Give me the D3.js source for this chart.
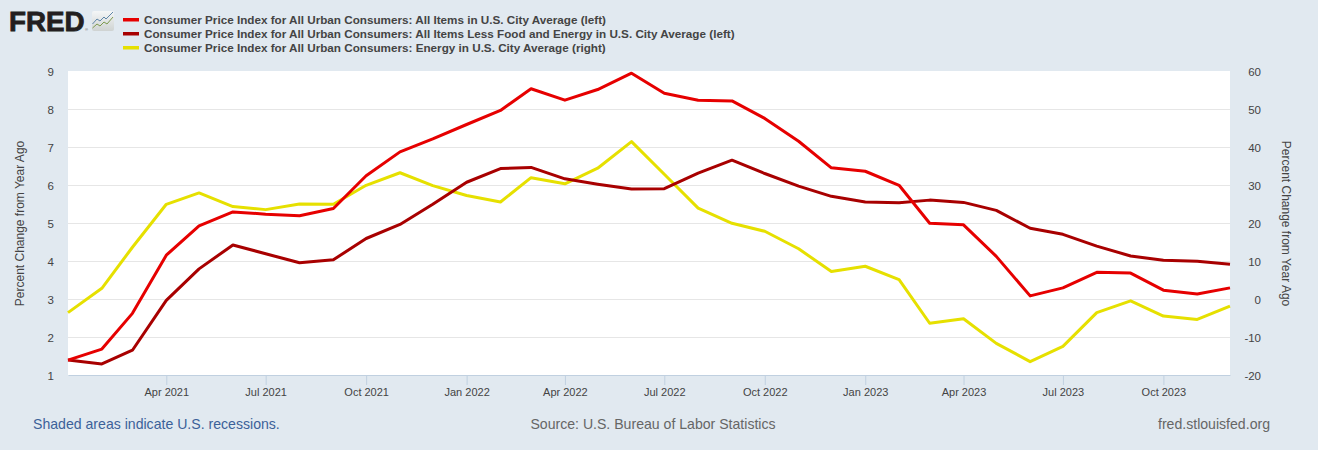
<!DOCTYPE html>
<html>
<head>
<meta charset="utf-8">
<script src="https://cdn.jsdelivr.net/npm/d3@7"></script>
<style>
  html, body { margin: 0; padding: 0; background: #e1e9f0; }
  svg { display: block; }
  text { font-family: "Liberation Sans", Arial, sans-serif; }
</style>
</head>
<body>
<div id="chart"></div>
<script>
const months = [
  "2021-01","2021-02","2021-03","2021-04","2021-05","2021-06","2021-07","2021-08","2021-09","2021-10","2021-11","2021-12",
  "2022-01","2022-02","2022-03","2022-04","2022-05","2022-06","2022-07","2022-08","2022-09","2022-10","2022-11","2022-12",
  "2023-01","2023-02","2023-03","2023-04","2023-05","2023-06","2023-07","2023-08","2023-09","2023-10","2023-11","2023-12"
];
const allItems = [1.40,1.69,2.63,4.16,4.93,5.30,5.24,5.20,5.39,6.25,6.88,7.22,
  7.60,7.97,8.54,8.24,8.52,8.95,8.42,8.24,8.22,7.76,7.16,6.46,
  6.37,6.00,5.00,4.96,4.13,3.09,3.30,3.71,3.69,3.24,3.14,3.30];
const coreItems = [1.40,1.30,1.66,2.97,3.80,4.43,4.20,3.96,4.04,4.60,4.97,5.50,
  6.08,6.44,6.47,6.17,6.03,5.90,5.91,6.32,6.66,6.31,5.98,5.71,
  5.56,5.54,5.61,5.55,5.34,4.87,4.71,4.40,4.14,4.03,4.00,3.92];
const energy = [-3.5,2.9,13.7,25.0,28.0,24.4,23.6,25.1,25.0,30.0,33.3,29.9,
  27.3,25.6,32.0,30.4,34.5,41.5,32.9,24.0,20.0,17.9,13.3,7.3,
  8.7,5.2,-6.3,-5.1,-11.6,-16.4,-12.4,-3.5,-0.4,-4.4,-5.3,-1.8];
const tickMonths = ["2021-04","2021-07","2021-10","2022-01","2022-04","2022-07","2022-10","2023-01","2023-04","2023-07","2023-10"];
const leftTicks = [1,2,3,4,5,6,7,8,9];
const rightTicks = [-20,-10,0,10,20,30,40,50,60];
const seriesNames = [
  "Consumer Price Index for All Urban Consumers: All Items in U.S. City Average (left)",
  "Consumer Price Index for All Urban Consumers: All Items Less Food and Energy in U.S. City Average (left)",
  "Consumer Price Index for All Urban Consumers: Energy in U.S. City Average (right)"
];
const seriesColors = ["#e60000", "#a80000", "#e6e000"];

const parseMonth = d3.timeParse("%Y-%m");
const dim = { width: 1318, height: 450, top: 71.3, bottom: 375.3, left: 68, right: 1230 };

const svg = d3.select("#chart").append("svg")
  .attr("width", dim.width)
  .attr("height", dim.height);

svg.append("rect").attr("width", dim.width).attr("height", dim.height).attr("fill", "#e1e9f0");
svg.append("rect")
  .attr("x", dim.left).attr("y", 71)
  .attr("width", dim.right - dim.left).attr("height", 304)
  .attr("fill", "#ffffff");

const x = d3.scaleTime()
  .domain([parseMonth(months[0]), parseMonth(months[months.length - 1])])
  .range([dim.left, dim.right]);
const yLeft = d3.scaleLinear().domain([1, 9]).range([dim.bottom, dim.top]);
const yRight = d3.scaleLinear().domain([-20, 60]).range([dim.bottom, dim.top]);

// grid
svg.append("g").selectAll("line").data(leftTicks.slice(1, -1)).enter().append("line")
  .attr("x1", dim.left).attr("x2", dim.right)
  .attr("y1", d => Math.floor(yLeft(d)) + 0.5).attr("y2", d => Math.floor(yLeft(d)) + 0.5)
  .attr("stroke", "#e6e6e6").attr("stroke-width", 1);

// axes
const xAxis = svg.append("g")
  .attr("transform", "translate(0,375)")
  .call(d3.axisBottom(x).tickValues(tickMonths.map(parseMonth)).tickFormat(d3.timeFormat("%b %Y")).tickSize(10).tickSizeOuter(0).tickPadding(3));
xAxis.select(".domain").attr("stroke", "#c0d0e0");
xAxis.selectAll(".tick line").attr("stroke", "#c0d0e0");
xAxis.selectAll("text").attr("fill", "#444444").style("font-size", "11px");

const left = svg.append("g")
  .attr("transform", "translate(" + dim.left + ",0.6)")
  .call(d3.axisLeft(yLeft).tickValues(leftTicks).tickSize(0).tickPadding(14));
left.select(".domain").remove();
left.selectAll("text").attr("fill", "#444444").style("font-size", "11.5px");

const right = svg.append("g")
  .attr("transform", "translate(" + dim.right + ",0.6)")
  .call(d3.axisRight(yRight).tickValues(rightTicks).tickFormat(d3.format("d")).tickSize(0).tickPadding(15));
right.select(".domain").remove();
right.selectAll("text").attr("fill", "#444444").attr("text-anchor", "end").attr("x", 31).style("font-size", "11.5px")
  .text(d => String(d));

svg.append("text")
  .attr("transform", "translate(24,223.5) rotate(-90)")
  .attr("text-anchor", "middle").attr("fill", "#444444").style("font-size", "12px")
  .text("Percent Change from Year Ago");
svg.append("text")
  .attr("transform", "translate(1282,223.5) rotate(90)")
  .attr("text-anchor", "middle").attr("fill", "#444444").style("font-size", "12px")
  .text("Percent Change from Year Ago");

// lines
const lineLeft = d3.line().x((d, i) => x(parseMonth(months[i]))).y(d => yLeft(d));
const lineRight = d3.line().x((d, i) => x(parseMonth(months[i]))).y(d => yRight(d));
const plot = svg.append("g");
[[energy, lineRight, 2], [coreItems, lineLeft, 1], [allItems, lineLeft, 0]].forEach(s => {
  plot.append("path")
    .attr("d", s[1](s[0]))
    .attr("fill", "none")
    .attr("stroke", seriesColors[s[2]])
    .attr("stroke-width", 3)
    .attr("stroke-linejoin", "round");
});

// legend
const legend = svg.append("g").selectAll("g").data(seriesNames).enter().append("g")
  .attr("transform", (d, i) => "translate(0," + (20 + i * 14) + ")");
legend.append("rect")
  .attr("x", 123).attr("y", -2).attr("width", 16).attr("height", 3.5)
  .attr("fill", (d, i) => seriesColors[i]);
legend.append("text")
  .attr("x", 144).attr("y", 4).attr("fill", "#444444")
  .style("font-size", "11.7px").style("font-weight", "bold")
  .text(d => d);

// footer
svg.append("text").attr("x", 33).attr("y", 429).attr("fill", "#3c6199").style("font-size", "14.1px")
  .text("Shaded areas indicate U.S. recessions.");
svg.append("text").attr("x", 653).attr("y", 429).attr("text-anchor", "middle").attr("fill", "#666666").style("font-size", "14.1px")
  .text("Source: U.S. Bureau of Labor Statistics");
svg.append("text").attr("x", 1270).attr("y", 429).attr("text-anchor", "end").attr("fill", "#666666").style("font-size", "14.1px")
  .text("fred.stlouisfed.org");

// logo
svg.append("text").attr("x", 9).attr("y", 30.5).attr("fill", "#231f20").attr("stroke", "#231f20").attr("stroke-width", 0.8)
  .style("font-size", "27.8px").style("font-weight", "bold")
  .text("FRED");
const grad = svg.append("defs").append("linearGradient").attr("id", "iconBg").attr("x1", 0).attr("y1", 0).attr("x2", 0).attr("y2", 1);
grad.append("stop").attr("offset", "0").attr("stop-color", "#f4f6f7");
grad.append("stop").attr("offset", "1").attr("stop-color", "#cfd3d2");
const icon = svg.append("g").attr("transform", "translate(92,11)");
icon.append("rect").attr("width", 22).attr("height", 20).attr("rx", 2).attr("fill", "url(#iconBg)");
icon.append("path").attr("d", "M0.5,13 L5,8 L8,10 L12,6 L14,8 L21,1").attr("fill", "none").attr("stroke", "#5f86a8").attr("stroke-width", 1);
icon.append("path").attr("d", "M0.5,17 L5,13 L8,15 L12,11 L15,13 L21,6").attr("fill", "none").attr("stroke", "#7d9a4e").attr("stroke-width", 1);
svg.append("text").attr("x", 85).attr("y", 31).attr("fill", "#555555").style("font-size", "4px").text("®");
</script>
</body>
</html>
